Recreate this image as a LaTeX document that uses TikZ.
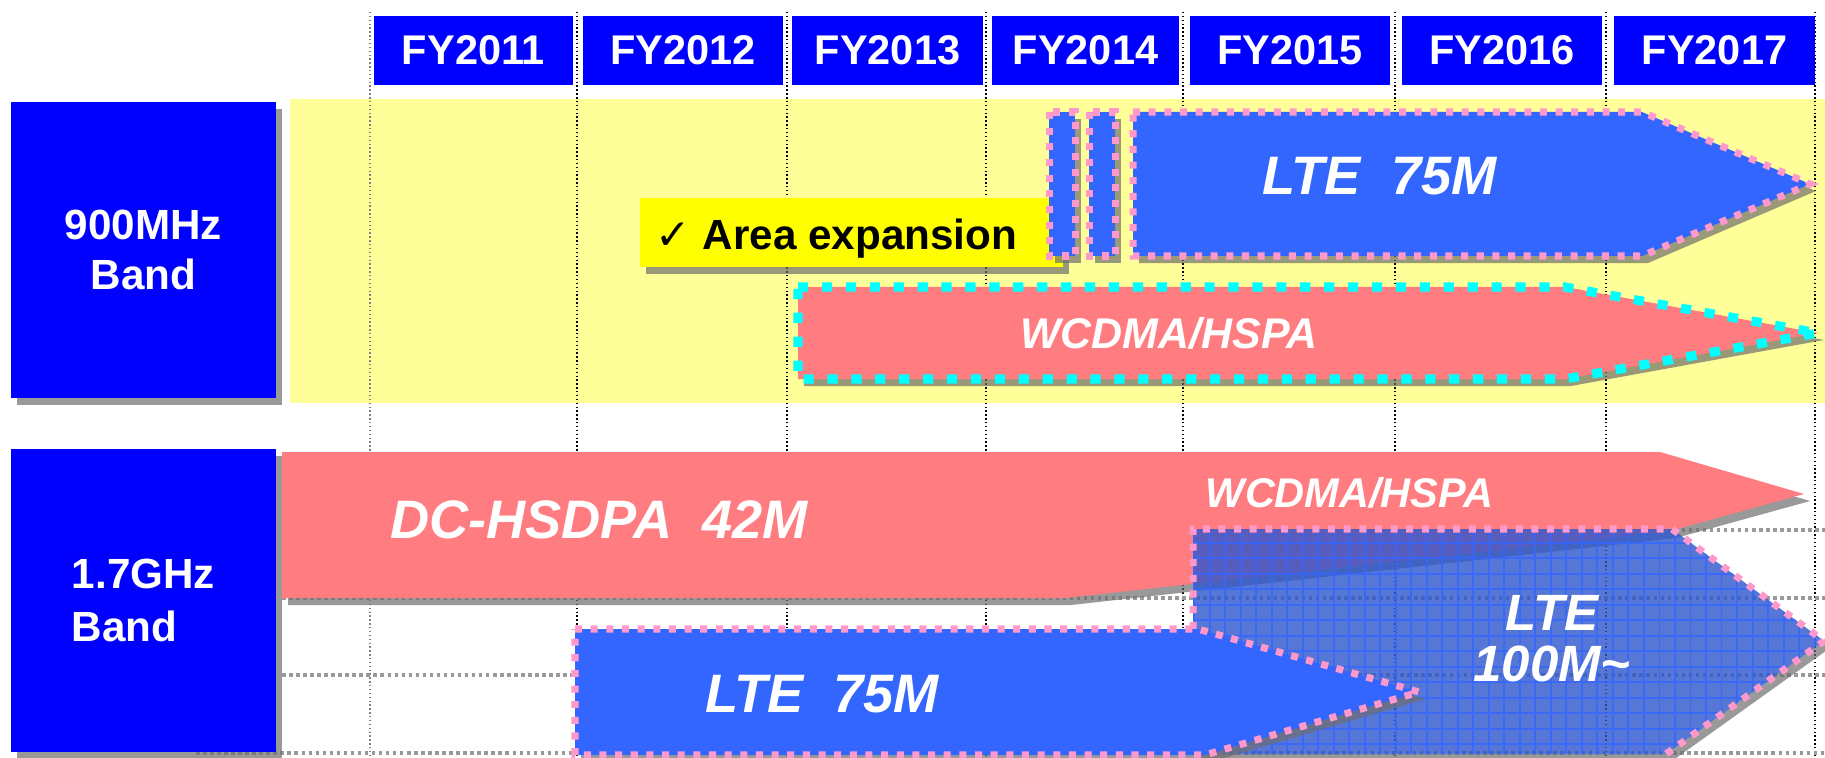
\documentclass[tikz,border=0pt]{standalone}
\usepackage{fontspec}
\setmainfont{Liberation Sans}
\newfontfamily\symfont{DejaVu Sans}
\usetikzlibrary{shadows}
\definecolor{hdrblue}{RGB}{0,0,255}
\definecolor{lteblue}{RGB}{51,102,255}
\definecolor{lteveil}{RGB}{46,86,206}
\definecolor{wcdmared}{RGB}{255,124,128}
\definecolor{bandyellow}{RGB}{255,255,153}
\definecolor{noteyellow}{RGB}{255,255,0}
\definecolor{dotpink}{RGB}{255,153,204}
\definecolor{dotcyan}{RGB}{0,255,255}
\definecolor{shgray}{RGB}{110,110,110}

\begin{document}
\begin{tikzpicture}[
    x=0.01cm, y=-0.01cm,
    every node/.style={font=\bfseries, text=white, inner sep=0pt},
    yearbox/.style={fill=hdrblue, minimum width=1.99cm, minimum height=0.69cm,
      font=\fontsize{11.8}{14}\selectfont\bfseries},
    bandbox/.style={fill=hdrblue, minimum width=2.65cm, align=center,
      font=\fontsize{12}{14.2}\selectfont\bfseries, dsh},
    dsh/.style={drop shadow={shadow xshift=0.06cm, shadow yshift=-0.07cm,
      fill=shgray, opacity=0.7}},
    shapetext/.style={font=\fontsize{#1}{#1}\selectfont\bfseries\itshape, anchor=base},
    vline/.style={line width=0.4pt, dash pattern=on 0.4pt off 0.7pt},
    hline/.style={gray!80, line width=0.9pt, dash pattern=on 1pt off 1pt},
    pinkdots/.style={draw=dotpink, line width=2pt, dash pattern=on 2pt off 2.45pt},
    cyandots/.style={draw=dotcyan, line width=2.6pt, dash pattern=on 2.9pt off 3.9pt}
]
\path[fill=white, use as bounding box] (0,0) rectangle (1825,758);
\fill[bandyellow] (290,99) rectangle (1825,403);

\draw[vline, gray] (370,12) -- (370,758);
\draw[vline] (577,12) -- (577,758);
\draw[vline] (787,12) -- (787,758);
\draw[vline] (986,12) -- (986,758);
\draw[vline] (1183,12) -- (1183,758);
\draw[vline] (1395,12) -- (1395,758);
\draw[vline] (1606,12) -- (1606,758);
\draw[vline] (1815,12) -- (1815,758);

\draw[hline] (196,753) -- (1825,753);
\draw[hline] (282,675) -- (1825,675);
\draw[hline] (282,598) -- (1825,598);
\draw[hline] (282,530) -- (1825,530);

\node (fy11) [yearbox] at (473.5,50.5) {FY2011};
\node (fy12) [yearbox] at (683,50.5) {FY2012};
\node (fy13) [yearbox, minimum width=1.91cm] at (887.5,50.5) {FY2013};
\node (fy14) [yearbox, minimum width=1.87cm] at (1085.5,50.5) {FY2014};
\node (fy15) [yearbox] at (1290,50.5) {FY2015};
\node (fy16) [yearbox] at (1502,50.5) {FY2016};
\node (fy17) [yearbox, minimum width=2.01cm] at (1714.5,50.5) {FY2017};

\node (b900) [bandbox, minimum height=2.96cm] at (143.5,250) {900MHz\\Band};
\node (b17)  [bandbox, minimum height=3.03cm, align=left,
  font=\fontsize{12}{15.1}\selectfont\bfseries] at (143.5,600.5) {1.7GHz\\Band};

\fill[noteyellow, dsh] (640,198) rectangle (1063,267);
\path[fill=lteblue, pinkdots, dsh] (1049,112) rectangle (1075,256);
\path[fill=lteblue, pinkdots, dsh] (1089,112) rectangle (1115,256);
\path[fill=lteblue, pinkdots, dsh] (1133,112) -- (1642,112) -- (1810,184)
  -- (1642,256) -- (1133,256) -- cycle;
\path[fill=wcdmared, cyandots, dsh] (798,287) -- (1565,287) -- (1818,333)
  -- (1565,379) -- (798,379) -- cycle;

\path[fill=wcdmared, dsh] (282,452) -- (1660,452) -- (1804,494) -- (1670,531)
  -- (1065,598) -- (282,598) -- cycle;
\fill[shgray, opacity=0.7] (1824,641) -- (1830,648) -- (1672,761) -- (1199,761)
  -- (1199,754) -- (1666,754) -- cycle;
\path[fill=lteveil, fill opacity=0.8,
  path picture={\draw[lteblue, solid, line width=0.55pt, opacity=0.8, step=0.155cm]
    (1190,760) grid (1830,520);}]
  (1193,529) -- (1672,529) -- (1824,641) -- (1666,754) -- (1193,754) -- cycle;
\draw[pinkdots] (1193,754) -- (1193,529) -- (1672,529) -- (1824,641) -- (1666,754);
\path[fill=lteblue, pinkdots, dsh] (575,629) -- (1198,629) -- (1419,692)
  -- (1205,755) -- (575,755) -- cycle;

\node (area) [anchor=base, text=black, font=\fontsize{12}{14}\selectfont\bfseries]
  at (836.5,250) {{\symfont\mdseries ✓}\ Area expansion};
\node (lte900) [shapetext=15.4] at (1379.5,195) {LTE~~75M};
\node (wc900)  [shapetext=12.2] at (1169,348) {WCDMA/HSPA};
\node (dchs)   [shapetext=15.4] at (599,538) {DC-HSDPA~~42M};
\node (wc17)   [shapetext=11.8] at (1349.5,507) {WCDMA/HSPA};
\node (lte17)  [shapetext=15.4] at (822,712) {LTE~~75M};
\node (lte100) [shapetext=14.5, anchor=center, align=center] at (1552,639)
  {LTE\\100M\textasciitilde};
\end{tikzpicture}
\end{document}
